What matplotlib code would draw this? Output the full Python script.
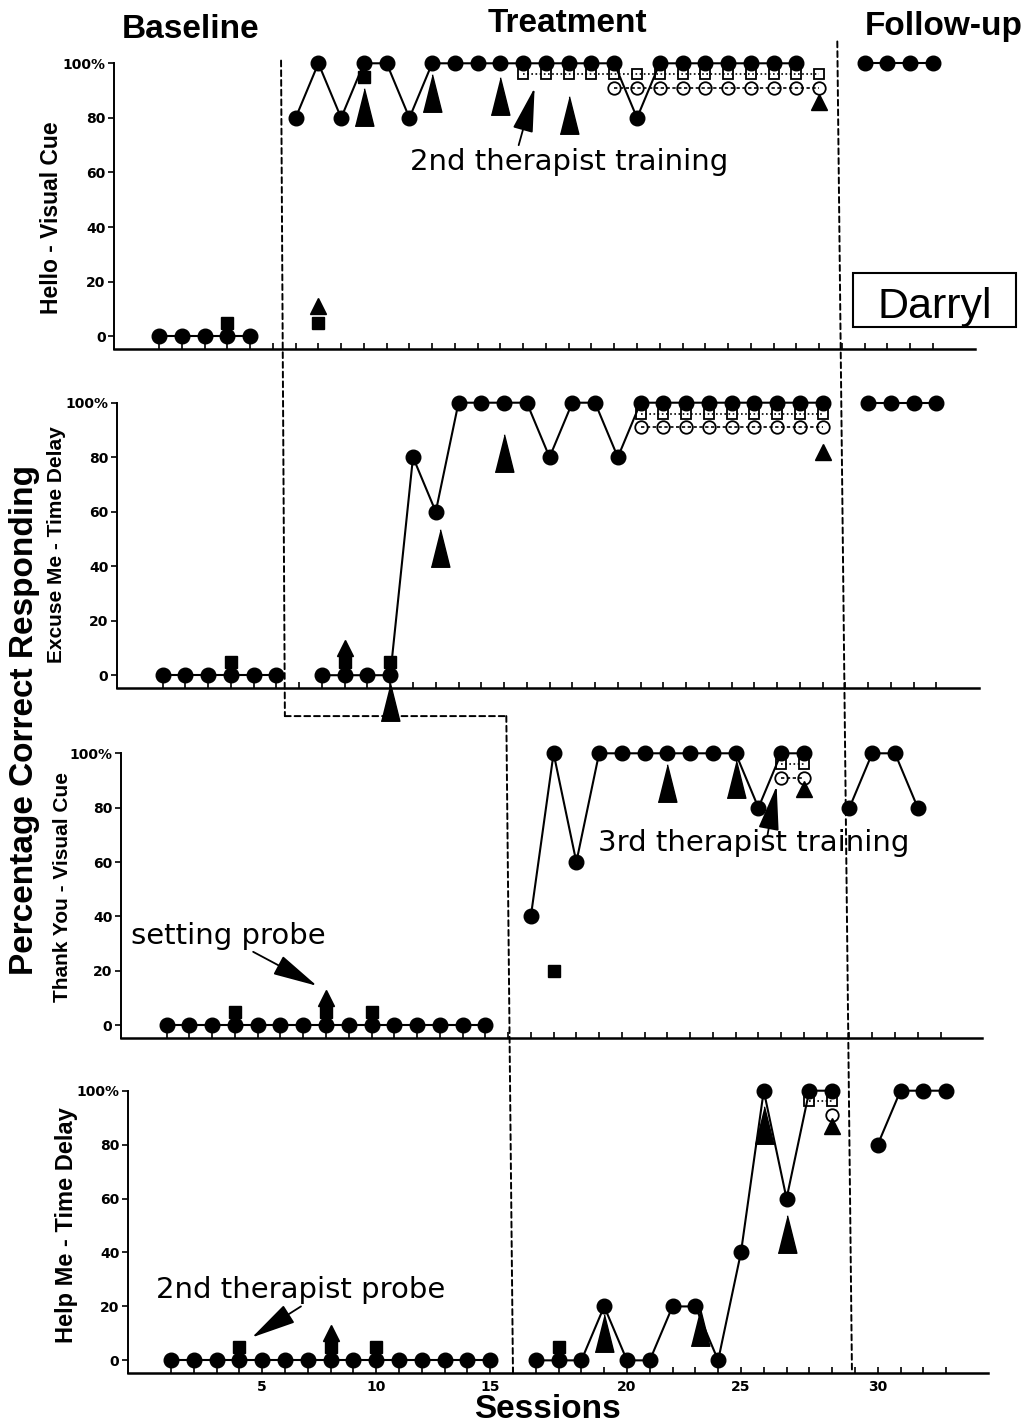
import matplotlib
matplotlib.use("Agg")
import matplotlib.pyplot as plt
from matplotlib.patches import ConnectionPatch, Rectangle

plt.rcParams['font.family'] = ['DejaVu Sans']

# ---------------- data ----------------
# x = position of the session tick on the drawn axis, y = percent correct
tick_pos = list(range(1, 36))
xlab_pos = [5, 10, 15, 21, 26, 32]
xlab_txt = ["5", "10", "15", "20", "25", "30"]
y_ticks = [0, 20, 40, 60, 80, 100]
y_ticklabels = ["0", "20", "40", "60", "80", "100%"]

phase_titles = ["Baseline", "Treatment", "Follow-up"]
panel_names = ["Hello - Visual Cue", "Excuse Me - Time Delay",
               "Thank You - Visual Cue", "Help Me - Time Delay"]

# filled circles (therapist 1), each run is one connected line
hello_runs = [
    ([1, 2, 3, 4, 5], [0, 0, 0, 0, 0]),
    ([7, 8, 9, 10, 11, 12, 13, 14, 15, 16, 17, 18, 19, 20, 21, 22, 23, 24, 25, 26, 27, 28, 29],
     [80, 100, 80, 100, 100, 80, 100, 100, 100, 100, 100, 100, 100, 100, 100, 80,
      100, 100, 100, 100, 100, 100, 100]),
    ([32, 33, 34, 35], [100, 100, 100, 100]),
]
excuse_runs = [
    ([1, 2, 3, 4, 5, 6], [0, 0, 0, 0, 0, 0]),
    ([8, 9, 10, 11, 12, 13, 14, 15, 16, 17, 18, 19, 20, 21, 22, 23, 24, 25, 26, 27, 28, 29, 30],
     [0, 0, 0, 0, 80, 60, 100, 100, 100, 100, 80, 100, 100, 80,
      100, 100, 100, 100, 100, 100, 100, 100, 100]),
    ([32, 33, 34, 35], [100, 100, 100, 100]),
]
thank_runs = [
    ([1, 2, 3, 4, 5, 6, 7, 8, 9, 10, 11, 12, 13, 14, 15],
     [0, 0, 0, 0, 0, 0, 0, 0, 0, 0, 0, 0, 0, 0, 0]),
    ([17, 18, 19, 20, 21, 22, 23, 24, 25, 26, 27, 28, 29],
     [40, 100, 60, 100, 100, 100, 100, 100, 100, 100, 80, 100, 100]),
    ([31, 32, 33, 34], [80, 100, 100, 80]),
]
help_runs = [
    ([1, 2, 3, 4, 5, 6, 7, 8, 9, 10, 11, 12, 13, 14, 15],
     [0, 0, 0, 0, 0, 0, 0, 0, 0, 0, 0, 0, 0, 0, 0]),
    ([17, 18, 19, 20, 21, 22, 23, 24, 25, 26, 27, 28, 29, 30],
     [0, 0, 0, 20, 0, 0, 20, 20, 0, 40, 100, 60, 100, 100]),
    ([32, 33, 34, 35], [80, 100, 100, 100]),
]

# open squares (2nd therapist)
hello_sq2 = ([17, 18, 19, 20, 21, 22, 23, 24, 25, 26, 27, 28, 29, 30],
             [96, 96, 96, 96, 96, 96, 96, 96, 96, 96, 96, 96, 96, 96])
excuse_sq2 = ([22, 23, 24, 25, 26, 27, 28, 29, 30], [96, 96, 96, 96, 96, 96, 96, 96, 96])
thank_sq2 = ([28, 29], [96, 96])
help_sq2 = ([29, 30], [96, 96])

# open circles (3rd therapist)
hello_c3 = ([21, 22, 23, 24, 25, 26, 27, 28, 29, 30], [91, 91, 91, 91, 91, 91, 91, 91, 91, 91])
excuse_c3 = ([22, 23, 24, 25, 26, 27, 28, 29, 30], [91, 91, 91, 91, 91, 91, 91, 91, 91])
thank_c3 = ([28, 29], [91, 91])
help_c3 = ([30], [91])

# filled squares (2nd therapist probe)
hello_probe = ([4, 8, 10], [5, 5, 95])
excuse_probe = ([4, 9, 11], [5, 5, 5])
thank_probe = ([4, 8, 10, 18], [5, 5, 5, 20])
help_probe = ([4, 8, 10, 18], [5, 5, 5, 5])

# small triangles (setting probe)
hello_set = ([8, 30], [11, 86])
excuse_set = ([9, 30], [10, 82])
thank_set = ([8, 29], [10, 87])
help_set = ([8, 30], [10, 87])

# big triangles (training), centre of the mark
hello_big = ([10, 13, 16, 19], [84, 89, 88, 81])
excuse_big = ([11, 13.2, 16], [-10, 46.5, 81.5])
thank_big = ([23, 26], [89, 90.5])
help_big = ([20, 24.2, 27, 28], [10, 12.4, 87.3, 47])

runs = [hello_runs, excuse_runs, thank_runs, help_runs]
sq2 = [hello_sq2, excuse_sq2, thank_sq2, help_sq2]
c3 = [hello_c3, excuse_c3, thank_c3, help_c3]
probes = [hello_probe, excuse_probe, thank_probe, help_probe]
sets = [hello_set, excuse_set, thank_set, help_set]
bigs = [hello_big, excuse_big, thank_big, help_big]

# ---------------- layout ----------------
W, H = 1031, 1423
fig = plt.figure(figsize=(W / 100, H / 100), dpi=100)

# left, right, top(100%), bottom(axis) in pixels
panel_px = [(114, 975, 63.3, 349.3), (116.7, 979, 402.7, 688.3),
            (120.7, 981.7, 753.3, 1038.3), (127.7, 988.3, 1090.7, 1373.3)]
xlims = [(-0.98, 36.85), (-1.02, 36.87), (-1.02, 36.81), (-0.9, 36.85)]
ylim = (-4.8, 100)

big_tri = [(-0.25, -0.5), (0.25, -0.5), (0, 0.5)]

axes = []
for i, (l, r, t, b) in enumerate(panel_px):
    ax = fig.add_axes([l / W, 1 - b / H, (r - l) / W, (b - t) / H])
    ax.patch.set_alpha(0)
    ax.set_xlim(*xlims[i])
    ax.set_ylim(*ylim)
    for s in ['top', 'right']:
        ax.spines[s].set_visible(False)
    ax.spines['left'].set_linewidth(1.4)
    ax.spines['bottom'].set_linewidth(1.8)
    ax.set_yticks(y_ticks)
    ax.set_yticklabels(y_ticklabels, fontweight='bold', fontsize=10)
    ax.tick_params(axis='y', direction='out', length=4, width=1.2, pad=2)
    ax.set_xticks(tick_pos)
    labels = [''] * len(tick_pos)
    if i == 3:
        for p, txt in zip(xlab_pos, xlab_txt):
            labels[tick_pos.index(p)] = txt
    ax.set_xticklabels(labels, fontweight='bold', fontsize=10)
    ax.tick_params(axis='x', direction='in', length=4, width=1.2, pad=5)

    for x, y in runs[i]:
        ax.plot(x, y, '-', color='k', lw=1.5, marker='o', ms=10.5, mfc='k', mec='k',
                zorder=6, clip_on=False)
    x, y = sq2[i]
    ax.plot(x, y, 's', ms=7.5, mfc='white', mec='k', mew=1.3, zorder=4, clip_on=False)
    ax.plot(x, y, ls=(0, (1, 1.5)), color='k', lw=1.2, zorder=4.5, clip_on=False)
    x, y = c3[i]
    ax.plot(x, y, 'o', ms=9, mfc='white', mec='k', mew=1.3, zorder=4, clip_on=False)
    ax.plot(x, y, ls=(0, (2, 1.5)), color='k', lw=1.2, zorder=4.5, clip_on=False)
    x, y = probes[i]
    ax.plot(x, y, 's', ms=9, color='k', zorder=5, clip_on=False)
    x, y = sets[i]
    ax.plot(x, y, '^', ms=11, color='k', zorder=5, clip_on=False)
    x, y = bigs[i]
    ax.plot(x, y, ls='none', marker=big_tri, ms=27, color='k', zorder=7, clip_on=False)
    axes.append(ax)

ax1, ax2, ax3, ax4 = axes

# phase change lines
dash = dict(linestyle=(0, (3, 2)), lw=1.4, color='k')
for A, pa, B, pb in [(ax1, (6.36, 101), ax2, (6.37, -15)),
                     (ax2, (6.37, -15), ax2, (16.1, -15)),
                     (ax2, (16.1, -15), ax4, (16.0, -4.8)),
                     (ax1, (30.8, 108), ax4, (30.87, -4.8))]:
    con = ConnectionPatch(xyA=pa, coordsA=A.transData, xyB=pb, coordsB=B.transData, **dash)
    fig.add_artist(con)

# annotations
arrow = dict(arrowstyle='-|>,head_length=2.8,head_width=0.65', mutation_scale=10,
             lw=1.3, color='k', shrinkA=0, shrinkB=0)
ax1.text(19.0, 64, "2nd therapist training", fontsize=21, ha='center', va='center')
ax1.annotate('', xy=(17.5, 91), xytext=(16.8, 70), arrowprops=arrow)
ax3.text(26.8, 67, "3rd therapist training", fontsize=21, ha='center', va='center')
ax3.annotate('', xy=(27.8, 88), xytext=(27.4, 70), arrowprops=arrow)
ax3.text(3.7, 33, "setting probe", fontsize=21, ha='center', va='center')
ax3.annotate('', xy=(7.6, 14.5), xytext=(4.8, 27), arrowprops=arrow)
ax4.text(6.7, 26, "2nd therapist probe", fontsize=21, ha='center', va='center')
ax4.annotate('', xy=(4.55, 8.5), xytext=(6.7, 20), arrowprops=arrow)

# participant box
ax1.add_patch(Rectangle((31.5, 3.3), 7.15, 19.8, fill=False, lw=1.5, clip_on=False))
ax1.text(35.07, 6.6, "Darryl", fontsize=31, family='Liberation Sans',
         ha='center', va='baseline')

# phase titles and axis labels
for txt, px, py in zip(phase_titles, [191, 567, 944], [38, 32, 35]):
    fig.text(px / W, 1 - py / H, txt, fontsize=24, fontweight='bold',
             family='Liberation Sans', ha='center', va='baseline')

for txt, px, py, fs in zip(panel_names, [52, 57, 63, 66], [218, 545, 887, 1225],
                           [16.5, 15, 15, 17]):
    fig.text(px / W, 1 - py / H, txt, fontsize=fs, fontweight='bold',
             family='Liberation Sans', rotation=90, ha='center', va='center')

fig.text(25 / W, 1 - 720 / H, "Percentage Correct Responding", fontsize=24,
         fontweight='bold', family='Liberation Sans', rotation=90, ha='center', va='center')
fig.text(547 / W, 1 - 1418 / H, "Sessions", fontsize=24, fontweight='bold',
         family='Liberation Sans', ha='center', va='baseline')

fig.savefig("out.png", dpi=100)
